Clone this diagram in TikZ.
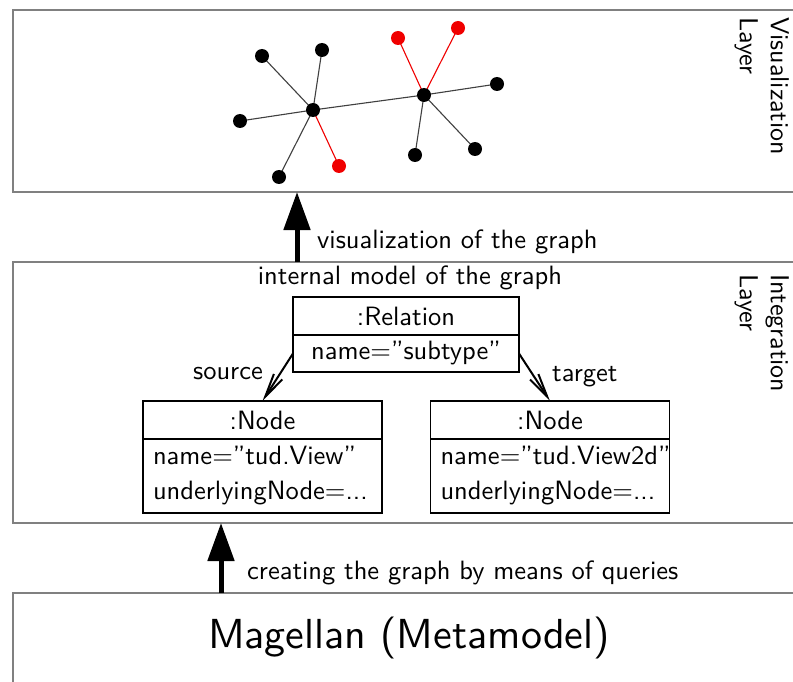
\documentclass[tikz,border=0pt]{standalone}
\usepackage{fontspec}
\setsansfont{lmsans10-regular.otf}
\usetikzlibrary{arrows.meta}
\definecolor{layergray}{RGB}{128,128,128}
\definecolor{dotred}{RGB}{240,0,0}
\tikzset{
  layerbox/.style={draw=layergray, line width=2pt},
  txt/.style={font=\sffamily\fontsize{26.5}{31}\selectfont, inner sep=0pt},
  bigtxt/.style={font=\sffamily\fontsize{42}{48}\selectfont, inner sep=0pt},
  layerlabel/.style={font=\sffamily\fontsize{26}{31}\selectfont, inner sep=0pt, rotate=-90, align=left, anchor=north west},
  umlpart/.style={draw, line width=1.8pt, outer sep=0pt, font=\sffamily\fontsize{26.5}{31}\selectfont, inner sep=0pt},
  gdot/.style={circle, fill=black, inner sep=0pt, minimum size=14pt},
  rdot/.style={circle, fill=dotred, inner sep=0pt, minimum size=14pt},
  gedge/.style={draw=black!75, line width=1.1pt},
  redge/.style={draw=dotred, line width=1.1pt},
  bigarrow/.style={line width=5pt, -{Triangle[length=38pt, width=26pt]}},
  assoc/.style={line width=2pt, -{Straight Barb[length=24pt, width=10pt, line width=2pt]}}
}
\begin{document}
\begin{tikzpicture}[x=1pt, y=-1pt]
\useasboundingbox (0,0) rectangle (793,682);
\clip (0,0) rectangle (793,682);
\fill[white] (0,0) rectangle (793,682);
% layers
\draw[layerbox] (13,10) rectangle (810,192);
\draw[layerbox] (13,262) rectangle (810,523);
\draw[layerbox] (13,593) rectangle (810,700);
\node[layerlabel] (vlab) at (789,17) {Visualization\\Layer};
\node[layerlabel] (ilab) at (789,274) {Integration\\Layer};
% graph edges
\coordinate (h1) at (313,110);
\coordinate (h2) at (424,95);
\coordinate (a1) at (262,56);
\coordinate (a2) at (322,50);
\coordinate (a3) at (240,121);
\coordinate (a4) at (279,177);
\coordinate (a5) at (339,166);
\coordinate (b1) at (398,38);
\coordinate (b2) at (458,28);
\coordinate (b3) at (497,84);
\coordinate (b4) at (415,155);
\coordinate (b5) at (475,149);
\draw[gedge] (h1) -- (h2);
\draw[gedge] (h1) -- (a1);
\draw[gedge] (h1) -- (a2);
\draw[gedge] (h1) -- (a3);
\draw[gedge] (h1) -- (a4);
\draw[redge] (h1) -- (a5);
\draw[redge] (h2) -- (b1);
\draw[redge] (h2) -- (b2);
\draw[gedge] (h2) -- (b3);
\draw[gedge] (h2) -- (b4);
\draw[gedge] (h2) -- (b5);
% graph vertices
\foreach \v in {h1,h2,a1,a2,a3,a4,b3,b4,b5} \node[gdot] (d\v) at (\v) {};
\foreach \v in {a5,b1,b2} \node[rdot] (d\v) at (\v) {};
% arrows between layers
\coordinate (up1s) at (297,262);
\coordinate (up1e) at (297,192);
\draw[bigarrow] (up1s) -- (up1e);
\node[txt, anchor=west] (vis) at (317,242) {visualization of the graph};
\coordinate (up2s) at (221,593);
\coordinate (up2e) at (221,523);
\draw[bigarrow] (up2s) -- (up2e);
\node[txt, anchor=west] (cre) at (247,573) {creating the graph by means of queries};
\node[txt] (imod) at (410,278) {internal model of the graph};
% UML objects
\node[umlpart, minimum width=226pt, minimum height=38pt] (rel) at (406,316) {:Relation};
\node[umlpart, minimum width=226pt, minimum height=37pt, anchor=north] (relattr) at (rel.south) {name=''subtype''};
\node[umlpart, minimum width=239pt, minimum height=38pt] (nl) at (262.5,420) {:Node};
\node[umlpart, minimum width=239pt, minimum height=74pt, anchor=north, align=left, text width=219pt] (nlattr) at (nl.south) {name=''tud.View''\\[4pt]underlyingNode=...};
\node[umlpart, minimum width=239pt, minimum height=38pt] (nr) at (550,420) {:Node};
\node[umlpart, minimum width=239pt, minimum height=74pt, anchor=north, align=left, text width=219pt] (nrattr) at (nr.south) {name=''tud.View2d''\\[4pt]underlyingNode=...};
\draw[assoc] (relattr.west) -- (nl.north);
\draw[assoc] (relattr.east) -- (nr.north);
\node[txt, anchor=east] (src) at (263,374) {source};
\node[txt, anchor=west] (tgt) at (552,377) {target};
% base
\node[bigtxt] (mag) at (409,638) {Magellan (Metamodel)};
\end{tikzpicture}
\end{document}
